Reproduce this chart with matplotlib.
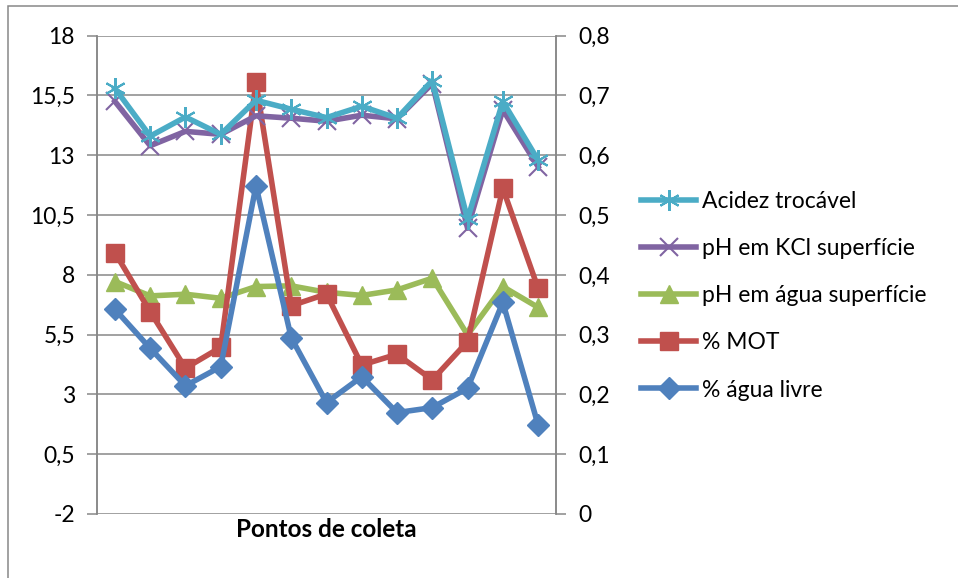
import matplotlib.pyplot as plt
from matplotlib.patches import Rectangle
from matplotlib.ticker import FixedLocator, FuncFormatter

plt.rcParams["font.family"] = ["Lato", "DejaVu Sans"]

# pontos de coleta (sem rótulos no eixo x)
pontos = list(range(1, 14))

# eixo secundário (0 a 0,8)
acidez_trocavel = [0.712, 0.632, 0.664, 0.635, 0.692, 0.677, 0.663,
                   0.682, 0.662, 0.725, 0.493, 0.690, 0.592]
ph_kcl = [0.690, 0.616, 0.640, 0.635, 0.666, 0.662, 0.657,
          0.667, 0.661, 0.720, 0.478, 0.676, 0.581]

# eixo principal (-2 a 18)
ph_agua = [7.72, 7.12, 7.19, 7.02, 7.51, 7.54, 7.27,
           7.14, 7.37, 7.86, 5.49, 7.51, 6.64]
mot = [8.93, 6.46, 4.10, 4.97, 16.05, 6.71, 7.20,
       4.23, 4.68, 3.61, 5.21, 11.62, 7.44]
agua_livre = [6.56, 4.93, 3.36, 4.16, 11.72, 5.37, 2.66,
              3.74, 2.24, 2.45, 3.26, 6.85, 1.73]

left_ticks = [-2, 0.5, 3, 5.5, 8, 10.5, 13, 15.5, 18]
right_ticks = [0, 0.1, 0.2, 0.3, 0.4, 0.5, 0.6, 0.7, 0.8]

GRID = "#878787"
FS = 16.5


def comma(v, _pos):
    s = f"{v:g}"
    return s.replace(".", ",")


fig = plt.figure(figsize=(9.58, 5.78), dpi=100)
ax = fig.add_axes([97.3 / 958, 1 - 514 / 578, (555.7 - 97.3) / 958, (514 - 35.7) / 578])
ax2 = ax.twinx()

lw = 4.0
l_agua, = ax.plot(pontos, ph_agua, color="#9BBB59", lw=lw, marker="^", ms=13,
                  mec="#9BBB59", label="pH em água superfície", zorder=3)
l_mot, = ax.plot(pontos, mot, color="#C0504D", lw=lw, marker="s", ms=13,
                 mec="#C0504D", label="% MOT", zorder=4)
l_livre, = ax.plot(pontos, agua_livre, color="#4F81BD", lw=lw, marker="D", ms=11,
                   mec="#4F81BD", label="% água livre", zorder=5)
l_kcl, = ax2.plot(pontos, ph_kcl, color="#8064A2", lw=lw, marker="x", ms=13,
                  mew=1.5, label="pH em KCl superfície", zorder=3)
l_acid, = ax2.plot(pontos, acidez_trocavel, color="#4BACC6", lw=lw, marker=(6, 2, 0),
                   ms=15, mew=1.5, label="Acidez trocável", zorder=4)

ax.set_xlim(0.5, 13.5)
ax.set_ylim(-2, 18)
ax2.set_ylim(0, 0.8)
ax.yaxis.set_major_locator(FixedLocator(left_ticks))
ax2.yaxis.set_major_locator(FixedLocator(right_ticks))
ax.yaxis.set_major_formatter(FuncFormatter(comma))
ax2.yaxis.set_major_formatter(FuncFormatter(comma))
ax.set_xticks([])

ax.grid(axis="y", color=GRID, lw=1.1)
ax.set_axisbelow(True)
for a in (ax, ax2):
    for side in ("top", "bottom"):
        a.spines[side].set_visible(False)
    a.spines["left"].set_color(GRID)
    a.spines["right"].set_color(GRID)
    a.spines["left"].set_linewidth(1.1)
    a.spines["right"].set_linewidth(1.1)
ax.tick_params(axis="y", length=7, width=1.1, color=GRID, labelsize=FS, pad=9)
ax2.tick_params(axis="y", length=7, width=1.1, color=GRID, labelsize=FS, pad=9)

ax.set_xlabel("Pontos de coleta", fontsize=17.5, fontweight="bold", labelpad=3)

handles = [l_acid, l_kcl, l_agua, l_mot, l_livre]
fig.legend(handles, [h.get_label() for h in handles], loc="upper left",
           bbox_to_anchor=(641 / 958, 1 - 191 / 578), frameon=False,
           fontsize=FS, handlelength=2.4, handletextpad=0.25, labelspacing=1.14,
           borderaxespad=0, borderpad=0)

fig.patches.append(Rectangle((8 / 958, -0.1), 2, 1 - 6 / 578 + 0.1, transform=fig.transFigure,
                             fill=False, edgecolor=GRID, lw=1.1))

fig.savefig("out.png", dpi=100)
